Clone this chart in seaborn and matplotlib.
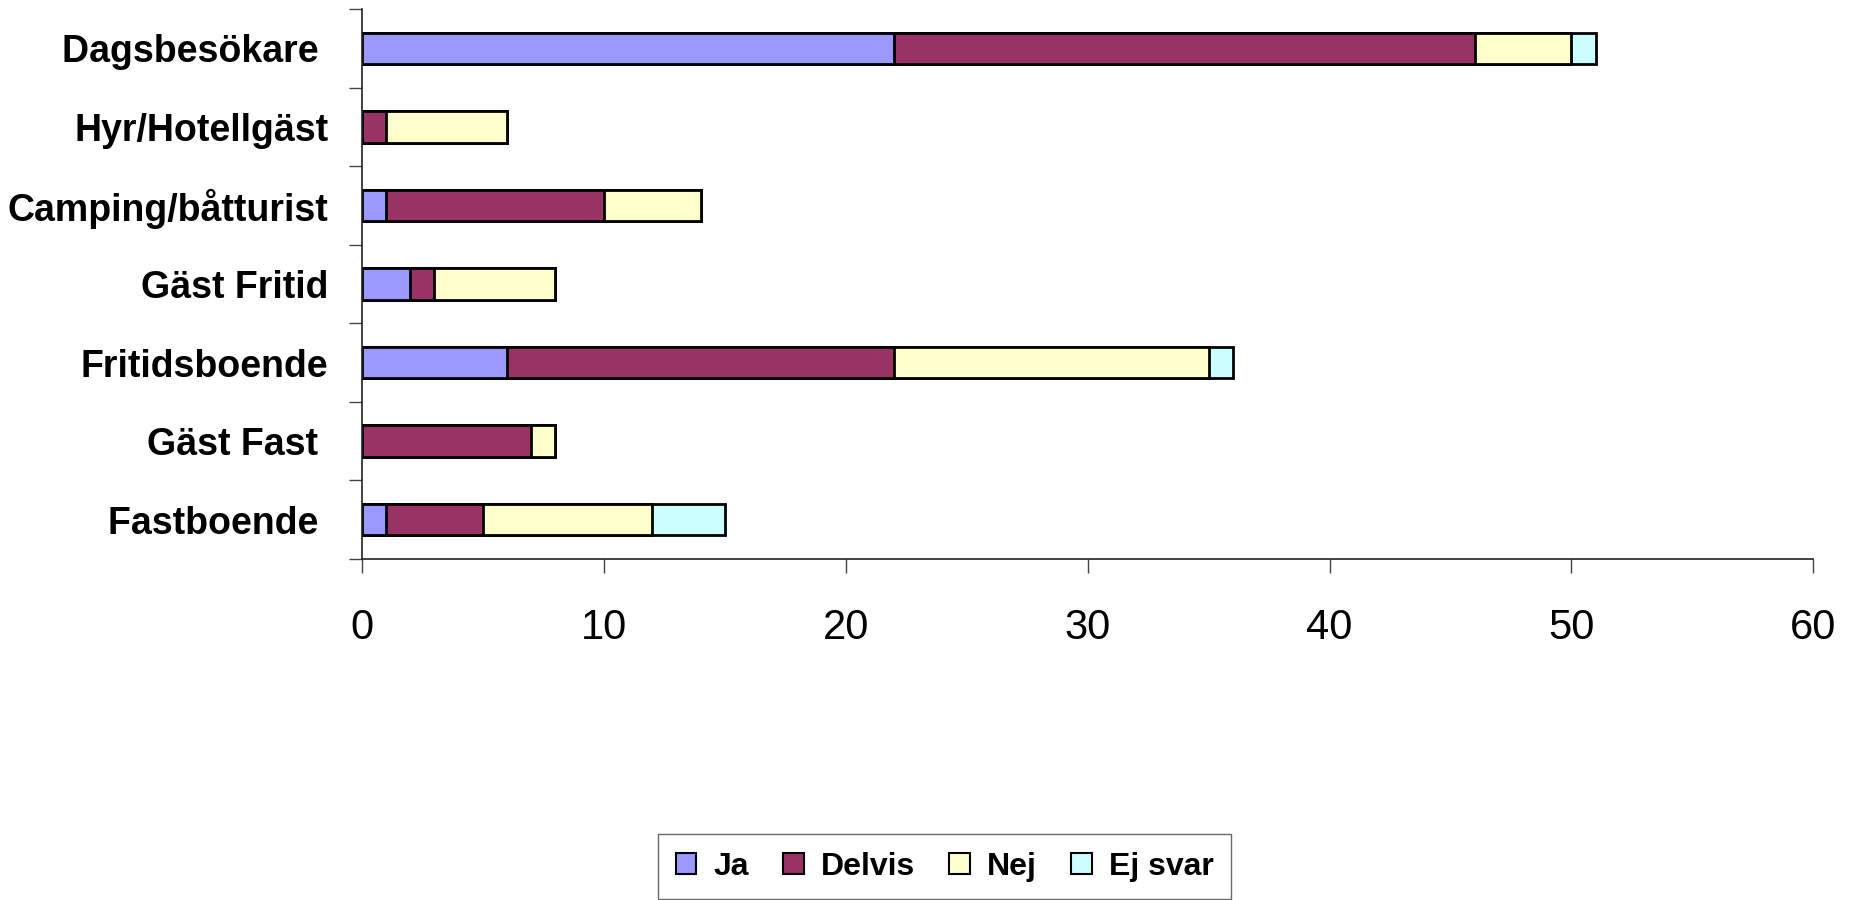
import numpy as np
import matplotlib
matplotlib.use("Agg")
import matplotlib.pyplot as plt
import seaborn as sns
from matplotlib.patches import Patch

# Data
kategorier = ["Dagsbesökare ", "Hyr/Hotellgäst", "Camping/båtturist", "Gäst Fritid",
              "Fritidsboende", "Gäst Fast ", "Fastboende "]
ja = [22, 0, 1, 2, 6, 0, 1]
delvis = [24, 1, 9, 1, 16, 7, 4]
nej = [4, 5, 4, 5, 13, 1, 7]
ej_svar = [1, 0, 0, 0, 1, 0, 3]

serier = ["Ja", "Delvis", "Nej", "Ej svar"]
farger = ["#9999FF", "#993366", "#FFFFCC", "#CCFFFF"]

sns.set_style("white")
plt.rcParams["font.family"] = ["Liberation Sans", "DejaVu Sans"]
plt.rcParams["text.color"] = "black"
plt.rcParams["xtick.color"] = "black"
plt.rcParams["ytick.color"] = "black"

fig, ax = plt.subplots(figsize=(18.56, 9), dpi=100)
fig.subplots_adjust(left=0.195, right=0.977, top=0.99, bottom=0.379)

# Stacked bars: draw cumulative totals from outermost to innermost
varden = np.array([ja, delvis, nej, ej_svar])
kum = np.cumsum(varden, axis=0)
for i in range(len(serier) - 1, -1, -1):
    sns.barplot(x=kum[i], y=kategorier, orient="h", color=farger[i],
                saturation=1, width=0.4, edgecolor="black", linewidth=2,
                ax=ax)

ax.set_xlim(0, 60)
ax.set_ylim(6.5, -0.5)
ax.set_xticks(range(0, 61, 10))
ax.set_xlabel("")
ax.set_ylabel("")

ax.set_yticks(range(len(kategorier)))
ax.set_yticklabels(kategorier, fontsize=27, fontweight="bold", color="black")
ax.set_yticks(np.arange(-0.5, 7, 1), minor=True)
ax.tick_params(axis="y", which="major", left=True, length=0, pad=24)
ax.tick_params(axis="y", which="minor", left=True, length=9.5, width=1,
               color="#444444", direction="out")
ax.tick_params(axis="x", which="major", bottom=True, length=10, width=1,
               color="#444444", direction="out", labelsize=30, pad=25,
               labelcolor="black")

for s in ["top", "right"]:
    ax.spines[s].set_visible(False)
for s in ["left", "bottom"]:
    ax.spines[s].set_color("#222222")
    ax.spines[s].set_linewidth(1.2)

handles = [Patch(facecolor=c, edgecolor="black", linewidth=1.5) for c in farger]
leg = fig.legend(handles, serier, loc="upper center", bbox_to_anchor=(0.509, 0.073),
                 ncol=4, frameon=True, fancybox=False, edgecolor="#444444",
                 prop={"size": 23, "weight": "bold"}, handlelength=0.65,
                 handleheight=0.65, handletextpad=0.55, columnspacing=1.05,
                 borderpad=0.55, borderaxespad=0)
leg.get_frame().set_linewidth(1)

fig.savefig("out.png", dpi=100)
